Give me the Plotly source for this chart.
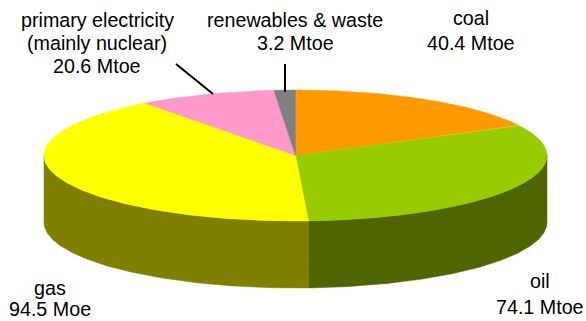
import numpy as np
import plotly.graph_objects as go

# Total primary energy supply by source, Mtoe
sources = ["coal", "oil", "gas", "primary electricity", "renewables & waste"]
values = [40.4, 74.1, 94.5, 20.6, 3.2]
top_colors = ["#FF9900", "#99CC00", "#FFFF00", "#FF99CC", "#808080"]
side_colors = ["#7F4C00", "#4F6600", "#808000", "#7F4C66", "#404040"]

# Tilted disc geometry in canvas units
CX, CY, RX, RY, DEPTH = 295.5, 155.5, 251.5, 65.5, 67.0


def rim(theta):
    return CX + RX * np.sin(theta), CY - RY * np.cos(theta)


fig = go.Figure()
edges = np.cumsum([0] + values) / sum(values) * 2 * np.pi

# Outer wall: only the front half of the disc (pi/2 to 3*pi/2) is visible
for start, stop, color in zip(edges[:-1], edges[1:], side_colors):
    lo, hi = max(start, np.pi / 2), min(stop, 3 * np.pi / 2)
    if lo >= hi:
        continue
    t = np.linspace(lo, hi, 160)
    x, y = rim(t)
    fig.add_trace(go.Scatter(
        x=np.r_[x, x[::-1], x[0]], y=np.r_[y, y[::-1] + DEPTH, y[0]],
        mode="lines", fill="toself", fillcolor=color,
        line=dict(width=0.5, color=color), hoverinfo="skip",
    ))

# Top face wedges
for name, start, stop, color in zip(sources, edges[:-1], edges[1:], top_colors):
    t = np.linspace(start, stop, 200)
    x, y = rim(t)
    fig.add_trace(go.Scatter(
        x=np.r_[CX, x, CX], y=np.r_[CY, y, CY], name=name,
        mode="lines", fill="toself", fillcolor=color,
        line=dict(width=0.5, color=color),
    ))

# One annotation per text row, so the row spacing stays tight
label_rows = [
    ("primary electricity", 97, 20),
    ("(mainly nuclear)", 97, 43),
    ("20.6 Mtoe", 97, 66),
    ("renewables & waste", 295, 20),
    ("3.2 Mtoe", 295, 43),
    ("coal", 471, 18),
    ("40.4 Mtoe", 471, 43),
    ("gas", 50, 288),
    ("94.5 Moe", 50, 309),
    ("oil", 540, 281),
    ("74.1 Mtoe", 540, 307),
]
for text, x, y in label_rows:
    fig.add_annotation(
        x=x, y=y, text=text, showarrow=False, xanchor="center", yanchor="middle",
        font=dict(family="Liberation Sans", size=19.7, color="#000000"),
    )

# Leader lines for the two small wedges
for x0, y0, x1, y1 in [(176, 64, 213, 94), (285, 64, 285, 92)]:
    fig.add_shape(type="line", x0=x0, y0=y0, x1=x1, y1=y1,
                  line=dict(color="#000000", width=2))

fig.update_layout(
    width=586, height=321, margin=dict(l=0, r=0, t=0, b=0),
    showlegend=False, paper_bgcolor="#FFFFFF", plot_bgcolor="#FFFFFF",
    xaxis=dict(range=[0, 586], visible=False, fixedrange=True),
    yaxis=dict(range=[321, 0], visible=False, fixedrange=True),
)
fig.write_html("out.html", config={"displayModeBar": False})
